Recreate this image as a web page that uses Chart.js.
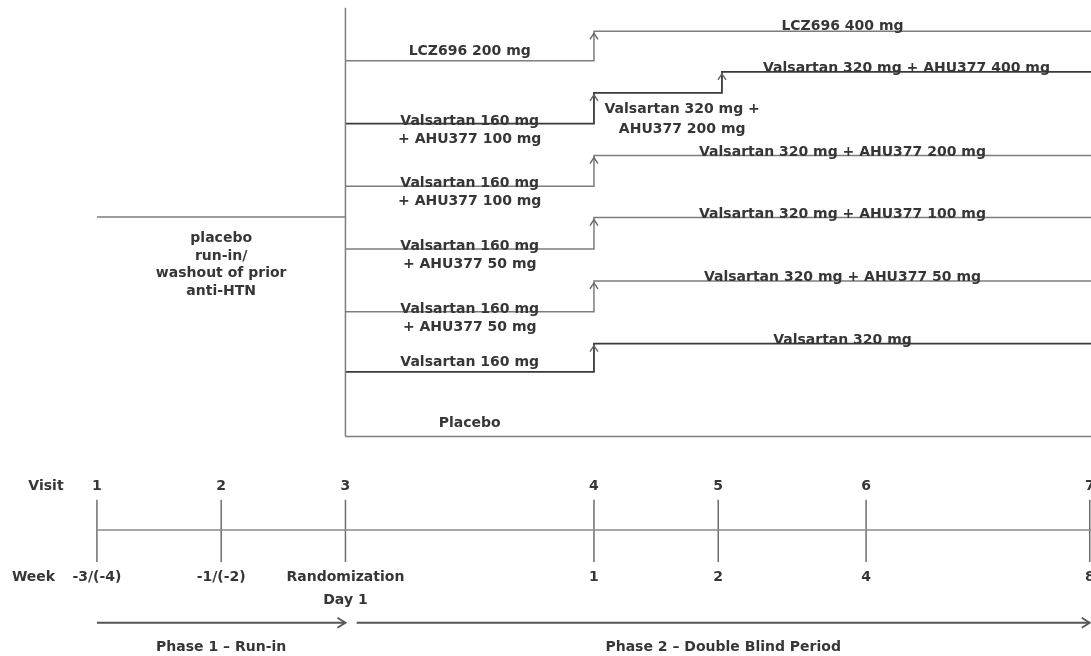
<!DOCTYPE html>
<html>
<head>
<meta charset="utf-8">
<script src="https://cdn.jsdelivr.net/npm/chart.js@4/dist/chart.umd.min.js"></script>
<style>
  html, body { margin: 0; padding: 0; background: #ffffff; }
  #wrap { width: 1091px; height: 656px; }
</style>
</head>
<body>
<div id="wrap"><canvas id="design" width="1091" height="656"></canvas></div>
<script>
// Visit schedule (x = schematic timeline position, visit 1 = 0)
const visitLabels = ['1', '2', '3', '4', '5', '6', '7'];
const weekLabels = ['-3/(-4)', '-1/(-2)', 'Randomization', '1', '2', '4', '8'];
const visitPos = [0, 1, 2, 4, 5, 6.19, 7.99];

// Treatment arms, top to bottom
const phase1Doses = [
    ['LCZ696 200 mg'],
    ['Valsartan 160 mg', '+ AHU377 100 mg'],
    ['Valsartan 160 mg', '+ AHU377 100 mg'],
    ['Valsartan 160 mg', '+ AHU377 50 mg'],
    ['Valsartan 160 mg', '+ AHU377 50 mg'],
    ['Valsartan 160 mg'],
    ['Placebo']
];
const phase2Doses = [
    'LCZ696 400 mg',
    'Valsartan 320 mg + AHU377 400 mg',
    'Valsartan 320 mg + AHU377 200 mg',
    'Valsartan 320 mg + AHU377 100 mg',
    'Valsartan 320 mg + AHU377 50 mg',
    'Valsartan 320 mg',
    null
];
const interimDose = ['Valsartan 320 mg +', 'AHU377 200 mg'];   // arm 2, visit 4 -> 5
const phase1Level = [0, 1, 2, 3, 4, 4.96, 5.99];
const phase2Level = [-0.47, 0.51, 1.51, 2.5, 3.51, 4.51, 5.99];
const titrationLevel = [null, 0.175, null, null, null, null, null];

const runInText = ['placebo', 'run-in/', 'washout of prior', 'anti-HTN'];
const phaseNames = ['Phase 1 \u2013 Run-in', 'Phase 2 \u2013 Double Blind Period'];

// layout rows (y units) for the visit timeline
const ROW = { randTop: -0.845, runIn: 2.49, visit: 6.79, tickTop: 7.0, axis: 7.48, tickBottom: 7.99,
              week: 8.24, day: 8.6, phase: 8.96, phaseText: 9.36 };
const END_X = 8.0;
const STEP_X = 2, RAND_X = 4, TITRATE_X = 5.03;

const LINE = '#7d7d7d';
const TEXT = '#363636';
const FONT = 'bold 14px "DejaVu Sans", sans-serif';

function seg(points, color, width) {
    return {
        type: 'line',
        data: points.map(p => ({ x: p[0], y: p[1] })),
        borderColor: color || LINE,
        borderWidth: width || 1.5,
        pointRadius: 0,
        fill: false,
        tension: 0
    };
}

const datasets = [];
// randomization line and run-in line
datasets.push(seg([[STEP_X, ROW.randTop], [STEP_X, phase1Level[6]]]));
datasets.push(seg([[visitPos[0], ROW.runIn], [STEP_X, ROW.runIn]]));

// arm paths
phase1Level.forEach((lvl, i) => {
    const pts = [[STEP_X, lvl]];
    if (phase2Doses[i] === null) {
        pts.push([END_X, lvl]);
    } else {
        pts.push([RAND_X, lvl], [RAND_X, phase2Level[i]]);
        if (titrationLevel[i] !== null) {
            pts.push([TITRATE_X, phase2Level[i]], [TITRATE_X, titrationLevel[i]], [END_X, titrationLevel[i]]);
        } else {
            pts.push([END_X, phase2Level[i]]);
        }
    }
    const dark = i === 1 || i === 5;
    datasets.push(seg(pts, dark ? '#3a3a3a' : LINE, dark ? 1.8 : 1.5));
});

// visit timeline
datasets.push(seg([[visitPos[0], ROW.axis], [END_X, ROW.axis]], '#8a8a8a', 1.5));
visitPos.forEach(x => datasets.push(seg([[x, ROW.tickTop], [x, ROW.tickBottom]], '#6e6e6e', 1.5)));

// phase arrows
datasets.push(seg([[visitPos[0], ROW.phase], [visitPos[2], ROW.phase]], '#555555', 2.2));
datasets.push(seg([[visitPos[2] + 0.09, ROW.phase], [visitPos[6], ROW.phase]], '#555555', 2.2));

const annotate = {
    id: 'annotate',
    afterDatasetsDraw(chart) {
        const ctx = chart.ctx;
        const xs = chart.scales.x, ys = chart.scales.y;
        const px = v => xs.getPixelForValue(v);
        const py = v => ys.getPixelForValue(v);

        // open arrowheads
        const up = (x, y) => {
            ctx.beginPath();
            ctx.moveTo(px(x) - 4, py(y) + 8);
            ctx.lineTo(px(x), py(y) + 2);
            ctx.lineTo(px(x) + 4, py(y) + 8);
            ctx.stroke();
        };
        const right = (x, y) => {
            ctx.beginPath();
            ctx.moveTo(px(x) - 8, py(y) - 5);
            ctx.lineTo(px(x), py(y));
            ctx.lineTo(px(x) - 8, py(y) + 5);
            ctx.stroke();
        };
        ctx.save();
        ctx.strokeStyle = '#666666';
        ctx.lineWidth = 1.4;
        phase2Doses.forEach((d, i) => {
            if (d === null) return;
            up(RAND_X, phase2Level[i]);
            if (titrationLevel[i] !== null) up(TITRATE_X, titrationLevel[i]);
        });
        ctx.strokeStyle = '#555555';
        ctx.lineWidth = 1.8;
        right(visitPos[2], ROW.phase);
        right(visitPos[6], ROW.phase);

        // text
        ctx.fillStyle = TEXT;
        ctx.font = FONT;
        ctx.textAlign = 'center';
        const txt = (s, x, y, dy, base) => {
            ctx.textBaseline = base || 'alphabetic';
            ctx.fillText(s, px(x), py(y) + dy);
        };

        phase1Doses.forEach((lines, i) => {
            const cx = (STEP_X + RAND_X) / 2;
            if (lines.length === 2) {
                txt(lines[0], cx, phase1Level[i], 1);
                txt(lines[1], cx, phase1Level[i], 19);
            } else {
                txt(lines[0], cx, phase1Level[i], phase2Doses[i] === null ? -9 : -6);
            }
        });
        phase2Doses.forEach((d, i) => {
            if (d === null) return;
            if (titrationLevel[i] !== null) {
                txt(d, (TITRATE_X + END_X) / 2, titrationLevel[i], 0);
            } else {
                txt(d, (RAND_X + END_X) / 2, phase2Level[i], i === 0 ? -1.5 : 0);
            }
        });
        txt(interimDose[0], 4.71, phase2Level[1], 20);
        txt(interimDose[1], 4.71, phase2Level[1], 40);

        runInText.forEach((s, k) => txt(s, visitPos[1], ROW.runIn, 25 + k * 17.7));

        txt('Visit', -0.41, ROW.visit, 0, 'middle');
        visitLabels.forEach((s, k) => txt(s, visitPos[k], ROW.visit, 0, 'middle'));
        txt('Week', -0.51, ROW.week, 0, 'middle');
        weekLabels.forEach((s, k) => txt(s, visitPos[k], ROW.week, 0, 'middle'));
        txt('Day 1', visitPos[2], ROW.day, 0, 'middle');

        txt(phaseNames[0], visitPos[1], ROW.phaseText, 0, 'middle');
        txt(phaseNames[1], visitPos[4] + 0.04, ROW.phaseText, 0, 'middle');
        ctx.restore();
    }
};

new Chart(document.getElementById('design'), {
    type: 'scatter',
    data: { datasets: datasets },
    options: {
        responsive: false,
        animation: false,
        layout: { padding: 0 },
        plugins: { legend: { display: false }, tooltip: { enabled: false } },
        scales: {
            x: { type: 'linear', display: false, min: -0.78, max: 8.0 },
            y: { type: 'linear', display: false, reverse: true, min: -0.97, max: 9.49 }
        }
    },
    plugins: [annotate]
});
</script>
</body>
</html>
